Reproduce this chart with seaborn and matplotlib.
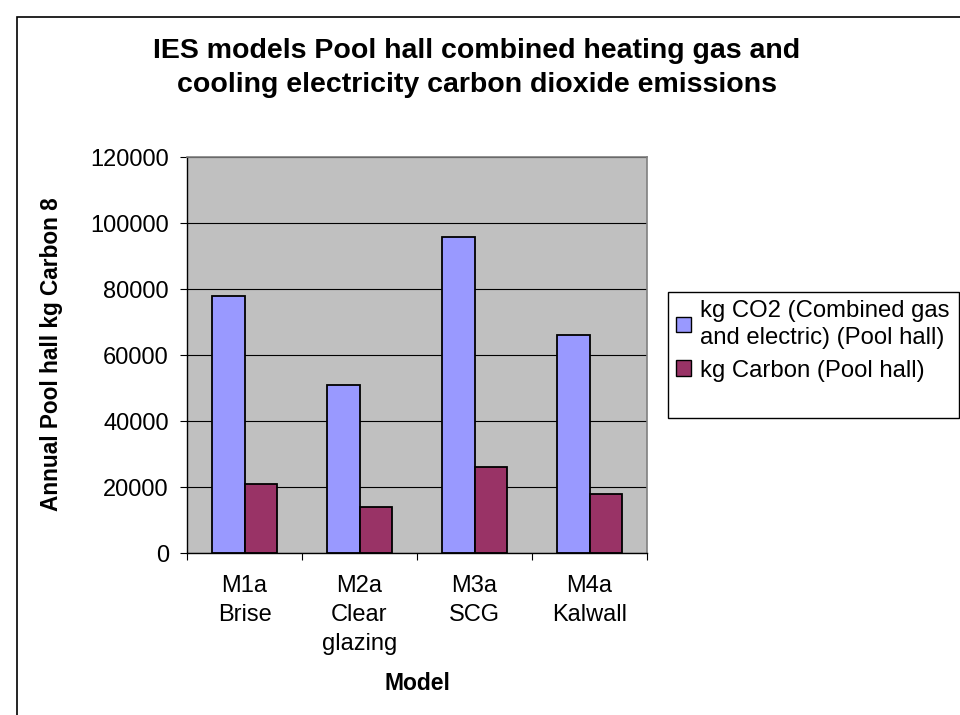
import pandas as pd
import seaborn as sns
import matplotlib.pyplot as plt
from matplotlib.patches import Patch, Rectangle

# data
modelos = ['M1a\nBrise', 'M2a\nClear\nglazing', 'M3a\nSCG', 'M4a\nKalwall']
co2 = [78000, 51000, 95800, 66000]
carbono = [21000, 14000, 26000, 18000]
series = ['kg CO2 (Combined gas\nand electric) (Pool hall)', 'kg Carbon (Pool hall)']
cores = ['#9999FF', '#993366']
yticks = [0, 20000, 40000, 60000, 80000, 100000, 120000]

df = pd.DataFrame({'Model': modelos * 2,
                   'Serie': [series[0]] * 4 + [series[1]] * 4,
                   'Valor': co2 + carbono})

sns.set_style('white')
plt.rcParams['font.family'] = ['Liberation Sans', 'DejaVu Sans']
plt.rcParams.update({'text.color': 'black', 'axes.labelcolor': 'black',
                     'xtick.color': 'black', 'ytick.color': 'black'})

fig = plt.figure(figsize=(9.6, 7.15), dpi=100)
W, H = 960, 715
ax = fig.add_axes([187 / W, 1 - 553 / H, 460 / W, 396 / H])

sns.barplot(data=df, x='Model', y='Valor', hue='Serie', palette=cores,
            width=0.572, gap=0, saturation=1, edgecolor='black',
            linewidth=1.3, ax=ax, legend=False)

ax.set_facecolor('#C0C0C0')
ax.set_ylim(0, 120000)
ax.set_xlim(-0.5, 3.5)
ax.set_yticks(yticks)
ax.set_yticklabels([str(v) for v in yticks], fontsize=17)
ax.yaxis.grid(True, color='black', linewidth=0.8)
ax.set_axisbelow(True)
ax.tick_params(axis='y', left=True, length=5, width=0.8, pad=8)

# category boundaries get the tick marks, labels sit in between
ax.set_xticks([-0.5, 0.5, 1.5, 2.5, 3.5], minor=True)
ax.tick_params(axis='x', which='minor', bottom=True, length=5, width=0.8)
ax.tick_params(axis='x', which='major', bottom=False, length=0, pad=16)
for lbl in ax.get_xticklabels():
    lbl.set_fontsize(17)
    lbl.set_linespacing(1.4)
ax.set_xlabel('')
ax.set_ylabel('')

for lado in ['left', 'bottom']:
    ax.spines[lado].set_color('black')
    ax.spines[lado].set_linewidth(1)
for lado in ['top', 'right']:
    ax.spines[lado].set_color('#808080')
    ax.spines[lado].set_linewidth(1.2)

fig.text(477 / W, 1 - 68 / H,
         'IES models Pool hall combined heating gas and\ncooling electricity carbon dioxide emissions',
         ha='center', va='center', fontsize=20.5, fontweight='bold', linespacing=1.42)
fig.text(52 / W, 1 - 354 / H, 'Annual Pool hall kg Carbon 8', rotation=90,
         ha='center', va='center', fontsize=16.3, fontweight='bold')
fig.text(417 / W, 1 - 683 / H, 'Model', ha='center', va='center',
         fontsize=16.5, fontweight='bold')

handles = [Patch(facecolor=c, edgecolor='black', linewidth=1) for c in cores]
leg = ax.legend(handles, series, loc='upper left', bbox_to_anchor=(676 / W, 1 - 300 / H),
                bbox_transform=fig.transFigure, frameon=False, borderpad=0,
                borderaxespad=0, handlelength=0.62, handleheight=0.62,
                handletextpad=0.4, labelspacing=0.45, fontsize=17.2)
for t in leg.get_texts():
    t.set_linespacing(1.28)

fig.add_artist(Rectangle((668 / W, 1 - 418 / H), 291 / W, 126 / H,
                         transform=fig.transFigure, fill=False,
                         edgecolor='black', linewidth=1))
fig.add_artist(Rectangle((17 / W, -0.1), 1.0, 1.1 - 17 / H,
                         transform=fig.transFigure, fill=False,
                         edgecolor='black', linewidth=1.2))

fig.savefig('out.png', dpi=100)
